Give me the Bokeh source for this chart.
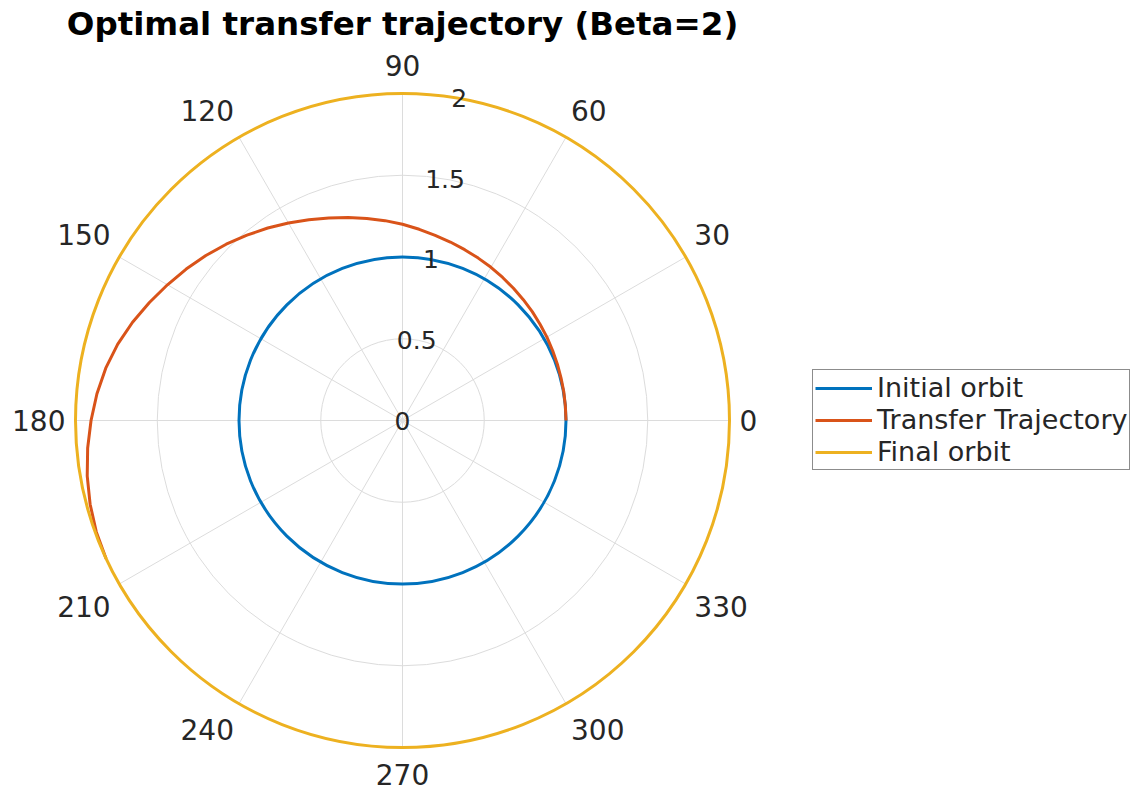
import numpy as np
from bokeh.plotting import figure
from bokeh.models import Label, Legend, LegendItem, Range1d
from bokeh.core.properties import value
from bokeh.embed import file_html
from bokeh.resources import INLINE

# ---------------- data ----------------
title_text = "Optimal transfer trajectory (Beta=2)"
theta_ticks = [0, 30, 60, 90, 120, 150, 180, 210, 240, 270, 300, 330]
theta_labels = ["0", "30", "60", "90", "120", "150", "180", "210", "240", "270", "300", "330"]
r_ticks = [0, 0.5, 1, 1.5, 2]
r_labels = ["0", "0.5", "1", "1.5", "2"]

series_names = ["Initial orbit", "Transfer Trajectory", "Final orbit"]
initial_radius = 1.0
final_radius = 2.0
traj_theta_deg = [0, 5, 10, 15, 20, 25, 30, 35, 40, 45, 50, 55, 60, 65, 70, 75,
                  80, 85, 90, 95, 100, 105, 110, 115, 120, 125, 130, 135, 140,
                  145, 150, 155, 160, 165, 170, 175, 180, 185, 190, 195, 200, 205]
traj_r = [1.000, 1.000, 1.002, 1.004, 1.008, 1.013, 1.020, 1.027, 1.036, 1.045,
          1.056, 1.068, 1.082, 1.096, 1.112, 1.130, 1.150, 1.174, 1.200, 1.227,
          1.255, 1.285, 1.318, 1.355, 1.395, 1.437, 1.480, 1.525, 1.570, 1.615,
          1.660, 1.708, 1.757, 1.803, 1.843, 1.876, 1.905, 1.933, 1.958, 1.978,
          1.993, 2.000]

# ---------------- style ----------------
colors = ["#0072BD", "#D95319", "#EDB120"]
grid_color = "#dcdcdc"
text_color = "#262626"
font = "DejaVu Sans"

W, H = 1132, 793
scale = 163.5           # px per radial unit
cx, cy = 402, 420       # canvas px of the pole (from top-left)

p = figure(width=W, height=H,
           x_range=Range1d(-cx / scale, (W - cx) / scale),
           y_range=Range1d(-(H - cy) / scale, cy / scale),
           output_backend="svg", toolbar_location=None,
           x_axis_location=None, y_axis_location=None, min_border=0)
p.grid.visible = False
p.outline_line_color = None
p.background_fill_color = "white"

rmax = r_ticks[-1]

# rings
for r in r_ticks[1:]:
    p.arc(x=0, y=0, radius=r, start_angle=0, end_angle=2 * np.pi,
          line_color=grid_color, line_width=1)

# spokes
th = np.deg2rad(np.array(theta_ticks, dtype=float))
p.segment(x0=np.zeros(len(th)), y0=np.zeros(len(th)),
          x1=rmax * np.cos(th), y1=rmax * np.sin(th),
          line_color=grid_color, line_width=1)

# data
r_init = p.arc(x=0, y=0, radius=initial_radius, start_angle=0, end_angle=2 * np.pi,
               line_color=colors[0], line_width=3)
tt = np.deg2rad(np.array(traj_theta_deg, dtype=float))
tr = np.array(traj_r)
r_traj = p.line(x=tr * np.cos(tt), y=tr * np.sin(tt), line_color=colors[1],
                line_width=3, line_join="round")
r_final = p.arc(x=0, y=0, radius=final_radius, start_angle=0, end_angle=2 * np.pi,
                line_color=colors[2], line_width=3)

# angular tick labels (MATLAB-like alignment around a fixed radius)
label_radius = (rmax * scale + 10) / scale
eps = 1e-6
for t, lab in zip(theta_ticks, theta_labels):
    a = np.deg2rad(t)
    c, s = np.cos(a), np.sin(a)
    align = "left" if c > eps else ("right" if c < -eps else "center")
    base = "bottom" if s > eps else ("top" if s < -eps else "middle")
    yoff = -7.5 if s > eps else (6.5 if s < -eps else 0)
    p.text(x=[label_radius * c], y=[label_radius * s], text=[lab],
           text_font=value(font), text_font_size="28px", text_color=text_color,
           text_align=align, text_baseline=base, y_offset=yoff)

# radial tick labels
r_label_angle = np.deg2rad(80)
rt = np.array(r_ticks, dtype=float)
p.text(x=rt * np.cos(r_label_angle), y=rt * np.sin(r_label_angle), text=r_labels,
       text_font=value(font), text_font_size="25px", text_color=text_color,
       text_align="center", text_baseline="middle")

# title
p.add_layout(Label(x=0, y=(cy - 23) / scale, text=title_text, text_font=font,
                   text_font_size="32.5px", text_font_style="bold", text_color="black",
                   text_align="center", text_baseline="alphabetic"))

# legend
legend = Legend(items=[LegendItem(label=series_names[0], renderers=[r_init]),
                       LegendItem(label=series_names[1], renderers=[r_traj]),
                       LegendItem(label=series_names[2], renderers=[r_final])],
                location=(812, 323), margin=0, padding=2, spacing=1,
                glyph_width=57, glyph_height=28, label_standoff=5,
                label_text_font=font, label_text_font_size="27px",
                label_text_color=text_color, border_line_color="#1a1a1a",
                border_line_width=1, background_fill_color="white",
                background_fill_alpha=1.0)
p.add_layout(legend)

open("out.html", "w").write(file_html(p, INLINE))
